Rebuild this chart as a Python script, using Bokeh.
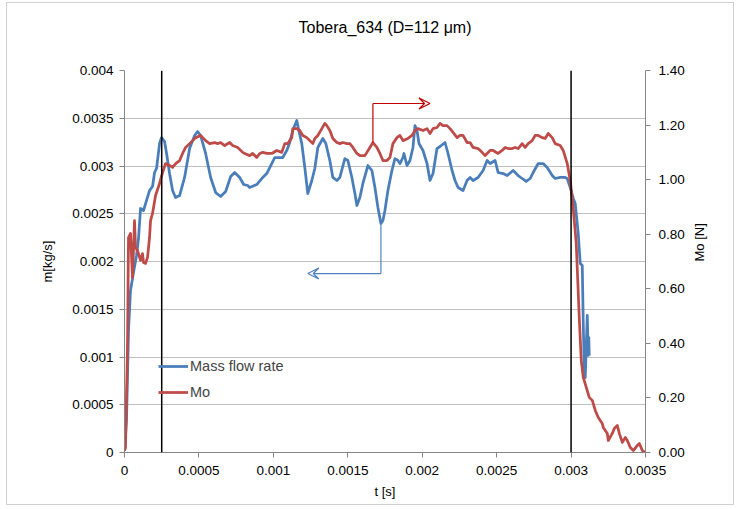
import math
from bokeh.plotting import figure
from bokeh.models import (Range1d, LinearAxis, FixedTicker, Span, Arrow, VeeHead,
                          Legend, LegendItem, Title)
from bokeh.embed import file_html
from bokeh.resources import INLINE

# ---------------- data ----------------
t_mass = [0, 0.0000135, 0.000027, 0.0000404, 0.0000606, 0.0000807, 0.0000942, 0.0001077,
          0.0001279, 0.000148, 0.0001682, 0.0001884, 0.0002019, 0.0002153, 0.0002355, 0.000249,
          0.0002692, 0.0002826, 0.0003028, 0.000323, 0.0003432, 0.0003701, 0.0004037, 0.0004374,
          0.000471, 0.0004912, 0.0005114, 0.000545, 0.0005787, 0.0006123, 0.000646, 0.0006796,
          0.0007133, 0.0007402, 0.0007738, 0.0008008, 0.0008277, 0.0008411, 0.0008882, 0.0009219,
          0.0009555, 0.0009892, 0.0010094, 0.0010295, 0.0010632, 0.0010901, 0.0011103, 0.0011305,
          0.0011574, 0.0011708, 0.001191, 0.0012112, 0.0012314, 0.0012583, 0.0012785, 0.0012987,
          0.0013323, 0.0013525, 0.0013794, 0.0013996, 0.0014265, 0.0014467, 0.0014804, 0.0015006,
          0.0015275, 0.0015477, 0.0015611, 0.0015813, 0.0016015, 0.0016351, 0.001662, 0.0016823,
          0.0017024, 0.0017226, 0.0017361, 0.0017495, 0.0017697, 0.0017966, 0.0018168, 0.001837,
          0.0018505, 0.0018707, 0.0018774, 0.0018976, 0.0019178, 0.001938, 0.0019514, 0.0019649,
          0.0019783, 0.0020052, 0.0020322, 0.0020523, 0.0020725, 0.0020994, 0.0021196, 0.0021533,
          0.0021735, 0.0022004, 0.0022206, 0.0022407, 0.0022744, 0.0023013, 0.0023215, 0.0023417,
          0.0023753, 0.002409, 0.0024359, 0.0024561, 0.0024897, 0.0025099, 0.0025436, 0.0025705,
          0.0026109, 0.0026445, 0.0026714, 0.0026984, 0.0027252, 0.0027454, 0.0027791, 0.0028127,
          0.0028396, 0.0028733, 0.0028935, 0.0029271, 0.0029608, 0.0029742, 0.0029944, 0.0030146,
          0.003028, 0.0030482, 0.0030617, 0.0030752, 0.0030819, 0.0030886, 0.0030953, 0.0031088,
          0.0031155, 0.003119, 0.0031222]
mass_flow = [0.00002, 0.000335, 0.001277, 0.001696, 0.001885, 0.002063, 0.002241, 0.002555,
             0.002534, 0.002639, 0.002743, 0.002785, 0.002932, 0.002974, 0.003235, 0.003298,
             0.003256, 0.003131, 0.002921, 0.002743, 0.00267, 0.002691, 0.00288, 0.003183,
             0.003319, 0.003361, 0.003319, 0.003131, 0.00288, 0.002722, 0.002681, 0.002733,
             0.00289, 0.002932, 0.00288, 0.002806, 0.002796, 0.002775, 0.002806, 0.002869,
             0.002921, 0.003026, 0.003089, 0.003089, 0.003089, 0.003162, 0.003246, 0.003372,
             0.003476, 0.003372, 0.003235, 0.002984, 0.002712, 0.002848, 0.002974, 0.003194,
             0.003288, 0.003235, 0.003058, 0.00288, 0.002848, 0.00288, 0.003078, 0.003058,
             0.00288, 0.002712, 0.002586, 0.00267, 0.002817, 0.003005, 0.002953, 0.002775,
             0.002565, 0.002398, 0.002429, 0.002534, 0.002743, 0.002953, 0.003078, 0.003058,
             0.003026, 0.003089, 0.003131, 0.003005, 0.003058, 0.003194, 0.003424, 0.003372,
             0.003235, 0.003162, 0.003026, 0.002848, 0.002921, 0.003183, 0.003204, 0.003246,
             0.003131, 0.002953, 0.002848, 0.002775, 0.002743, 0.002848, 0.00288, 0.002848,
             0.00288, 0.002953, 0.003058, 0.003026, 0.003058, 0.002932, 0.002921, 0.0029,
             0.002953, 0.0029, 0.002869, 0.002838, 0.002869, 0.002932, 0.003026, 0.003026,
             0.002984, 0.0029, 0.002869, 0.00288, 0.00288, 0.002869, 0.002775, 0.00266,
             0.002607, 0.002293, 0.001979, 0.001958, 0.001351, 0.00089, 0.000785, 0.001435,
             0.001016, 0.001204, 0.001016]

t_mo = [0, 0.0000067, 0.0000202, 0.0000269, 0.0000404, 0.0000538, 0.0000673, 0.000074,
        0.0000875, 0.0001077, 0.0001211, 0.0001279, 0.0001413, 0.0001548, 0.0001682, 0.000175,
        0.0001884, 0.0002086, 0.0002355, 0.0002557, 0.0002759, 0.0003028, 0.000323, 0.0003432,
        0.0003701, 0.0003903, 0.0004105, 0.0004374, 0.0004576, 0.0004778, 0.0005114, 0.000545,
        0.000572, 0.0006056, 0.0006258, 0.000646, 0.0006729, 0.0007065, 0.0007267, 0.0007604,
        0.000794, 0.0008075, 0.0008411, 0.0008613, 0.0008882, 0.0009084, 0.0009286, 0.0009555,
        0.0009892, 0.0010228, 0.0010565, 0.0010766, 0.0010968, 0.0011237, 0.0011305, 0.0011574,
        0.0011776, 0.0011978, 0.0012247, 0.0012449, 0.0012651, 0.0012785, 0.0012987, 0.0013256,
        0.0013458, 0.0013593, 0.0013794, 0.0013996, 0.0014265, 0.0014467, 0.0014669, 0.0014938,
        0.001514, 0.0015342, 0.0015611, 0.0015813, 0.001615, 0.0016486, 0.0016688, 0.0016957,
        0.0017159, 0.0017361, 0.001763, 0.0017832, 0.0018034, 0.0018303, 0.0018505, 0.0018707,
        0.0019043, 0.0019312, 0.0019514, 0.0019716, 0.0020052, 0.0020322, 0.0020523, 0.0020725,
        0.0020994, 0.0021196, 0.0021398, 0.0021667, 0.0021869, 0.0022071, 0.002234, 0.0022542,
        0.0022744, 0.0023013, 0.0023215, 0.0023417, 0.0023753, 0.0024022, 0.0024224, 0.0024359,
        0.0024561, 0.0024763, 0.0025099, 0.0025368, 0.002557, 0.0025772, 0.0026041, 0.0026243,
        0.0026445, 0.0026714, 0.0026916, 0.0027118, 0.0027387, 0.0027589, 0.0027791, 0.002806,
        0.0028262, 0.0028464, 0.0028733, 0.0028935, 0.0029271, 0.0029473, 0.0029742, 0.0029944,
        0.0030146, 0.0030348, 0.003055, 0.0030684, 0.0030819, 0.0031088, 0.0031222, 0.0031424,
        0.0031626, 0.0031828, 0.0031963, 0.0032097, 0.0032165, 0.0032434, 0.0032501, 0.003277,
        0.0032905, 0.0033107, 0.0033242, 0.0033443, 0.0033645, 0.003378, 0.0033982, 0.0034184,
        0.0034453, 0.0034588, 0.0034789, 0.0035]
mo = [0.007, 0.018, 0.385, 0.788, 0.803, 0.641, 0.850, 0.751, 0.740, 0.704, 0.729, 0.696,
      0.693, 0.715, 0.788, 0.850, 0.876, 0.942, 0.986, 1.026, 1.059, 1.052, 1.045, 1.059,
      1.070, 1.096, 1.118, 1.132, 1.143, 1.154, 1.162, 1.143, 1.132, 1.136, 1.132, 1.136,
      1.125, 1.136, 1.125, 1.118, 1.100, 1.096, 1.088, 1.096, 1.081, 1.096, 1.100, 1.096,
      1.096, 1.107, 1.100, 1.132, 1.132, 1.154, 1.187, 1.187, 1.180, 1.162, 1.154, 1.143,
      1.132, 1.151, 1.162, 1.187, 1.206, 1.198, 1.180, 1.151, 1.136, 1.132, 1.136, 1.132,
      1.132, 1.118, 1.096, 1.088, 1.088, 1.118, 1.136, 1.118, 1.096, 1.070, 1.070, 1.081,
      1.132, 1.154, 1.162, 1.143, 1.151, 1.162, 1.180, 1.187, 1.180, 1.187, 1.169, 1.187,
      1.191, 1.206, 1.198, 1.198, 1.187, 1.173, 1.154, 1.162, 1.162, 1.136, 1.136, 1.118,
      1.114, 1.100, 1.088, 1.096, 1.107, 1.107, 1.096, 1.107, 1.118, 1.114, 1.114, 1.118,
      1.114, 1.132, 1.118, 1.132, 1.143, 1.162, 1.162, 1.154, 1.151, 1.169, 1.154, 1.132,
      1.125, 1.107, 1.059, 0.997, 0.894, 0.766, 0.495, 0.337, 0.275, 0.227, 0.202, 0.191,
      0.154, 0.128, 0.117, 0.106, 0.092, 0.070, 0.044, 0.070, 0.088, 0.099, 0.070, 0.037,
      0.055, 0.044, 0.018, 0.007, 0.026, 0.033, 0.007, 0.0]

x_ticks = [0, 0.0005, 0.001, 0.0015, 0.002, 0.0025, 0.003, 0.0035]
x_labels = ["0", "0.0005", "0.001", "0.0015", "0.002", "0.0025", "0.003", "0.0035"]
y_ticks = [0, 0.0005, 0.001, 0.0015, 0.002, 0.0025, 0.003, 0.0035, 0.004]
y_labels = ["0", "0.0005", "0.001", "0.0015", "0.002", "0.0025", "0.003", "0.0035", "0.004"]
y2_ticks = [0, 0.2, 0.4, 0.6, 0.8, 1.0, 1.2, 1.4]
y2_labels = ["0.00", "0.20", "0.40", "0.60", "0.80", "1.00", "1.20", "1.40"]

markers_t = [0.00025, 0.003]
# arrow annotations: (t, value) corner points
mo_arrow_t = [0.0016688, 0.0016688, 0.0020523]
mo_arrow_v = [1.136, 1.279, 1.279]
mf_arrow_t = [0.0017226, 0.0017226, 0.0012314]
mf_arrow_v = [0.002398, 0.001874, 0.001874]

TITLE = "Tobera_634 (D=112 μm)"
BLUE = "#4a7ebb"
RED = "#be4b48"
FONT = "Liberation Sans"

p = figure(width=728, height=503, x_range=Range1d(0, 0.0035), y_range=Range1d(0, 0.004),
           output_backend="svg", toolbar_location=None,
           min_border_left=117, min_border_right=90, min_border_top=67, min_border_bottom=54)
p.styles = {"border": "1px solid #d0d0d0", "margin-left": "6px", "margin-top": "2px"}
p.extra_y_ranges = {"mo": Range1d(0, 1.4)}
p.outline_line_color = None
p.background_fill_color = "white"
p.border_fill_color = "white"

p.title.text = TITLE
p.title.align = "center"
p.title.text_font = FONT
p.title.text_font_size = "16px"
p.title.text_font_style = "normal"
p.title.text_color = "black"
p.title.standoff = 22
# invisible spacer between title and plot area
p.add_layout(Title(text=" ", text_font_size="20px", standoff=0), "above")

p.xgrid.visible = False
p.ygrid.ticker = FixedTicker(ticks=y_ticks)
p.ygrid.grid_line_color = "#c0c0c0"
p.ygrid.grid_line_width = 1


def style_axis(ax):
    ax.axis_line_color = "#868686"
    ax.major_tick_line_color = "#868686"
    ax.major_tick_in = 0
    ax.major_tick_out = 5
    ax.minor_tick_line_color = None
    ax.major_label_text_font = FONT
    ax.major_label_text_font_size = "13.5px"
    ax.major_label_text_color = "black"
    ax.axis_label_text_font = FONT
    ax.axis_label_text_font_size = "13px"
    ax.axis_label_text_font_style = "normal"
    ax.axis_label_text_color = "black"


xa = p.xaxis[0]
style_axis(xa)
xa.ticker = FixedTicker(ticks=x_ticks)
xa.major_label_overrides = dict(zip(x_ticks, x_labels))
xa.axis_label = "t [s]"
xa.major_label_standoff = 8
xa.axis_label_standoff = 6

ya = p.yaxis[0]
style_axis(ya)
ya.ticker = FixedTicker(ticks=y_ticks)
ya.major_label_overrides = dict(zip(y_ticks, y_labels))
ya.axis_label = "m[kg/s]"
ya.major_label_standoff = 6
ya.axis_label_standoff = 14

ra = LinearAxis(y_range_name="mo", axis_label="Mo [N]")
style_axis(ra)
ra.ticker = FixedTicker(ticks=y2_ticks)
ra.major_label_overrides = dict(zip(y2_ticks, y2_labels))
ra.major_label_standoff = 8
ra.axis_label_standoff = 12
ra.axis_label_orientation = math.pi / 2
p.add_layout(ra, "right")

rb = p.line(t_mass, mass_flow, line_color=BLUE, line_width=2.75, line_join="round")
rr = p.line(t_mo, mo, line_color=RED, line_width=2.75, line_join="round", y_range_name="mo")

for tm in markers_t:
    p.add_layout(Span(location=tm, dimension="height", line_color="black", line_width=1.5))

# red arrow (Mo -> right axis)
p.segment(x0=[mo_arrow_t[0]], y0=[mo_arrow_v[0]], x1=[mo_arrow_t[1]], y1=[mo_arrow_v[1]],
          line_color="#c00000", line_width=1.2, y_range_name="mo")
p.add_layout(Arrow(x_start=mo_arrow_t[1], y_start=mo_arrow_v[1], x_end=mo_arrow_t[2], y_end=mo_arrow_v[2],
                   y_range_name="mo", line_color="#c00000", line_width=1.2,
                   end=VeeHead(size=11, line_color="#c00000", line_width=1.2, fill_alpha=0)))
# blue arrow (mass flow -> left axis)
p.segment(x0=[mf_arrow_t[0]], y0=[mf_arrow_v[0]], x1=[mf_arrow_t[1]], y1=[mf_arrow_v[1]],
          line_color="#4f81bd", line_width=1.2)
p.add_layout(Arrow(x_start=mf_arrow_t[1], y_start=mf_arrow_v[1], x_end=mf_arrow_t[2], y_end=mf_arrow_v[2],
                   line_color="#4f81bd", line_width=1.2,
                   end=VeeHead(size=11, line_color="#4f81bd", line_width=1.2, fill_alpha=0)))

legend = Legend(items=[LegendItem(label="Mass flow rate", renderers=[rb]),
                       LegendItem(label="Mo", renderers=[rr])],
                location=(34, 50), background_fill_alpha=0, border_line_color=None,
                label_text_font=FONT, label_text_font_size="14.5px", glyph_width=30,
                glyph_height=20, spacing=6, padding=0, margin=0, label_standoff=2)
p.add_layout(legend)

open("out.html", "w").write(file_html(p, INLINE))
